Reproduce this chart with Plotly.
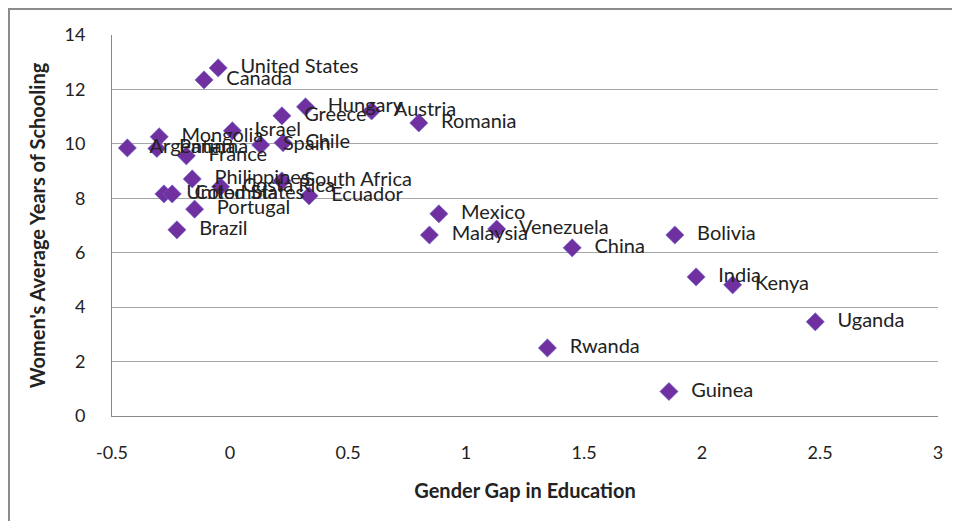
import plotly.graph_objects as go

countries = ["United States", "Canada", "Hungary", "Greece", "Austria", "Romania", "Israel",
             "Mongolia", "Argentina", "Panama", "France", "Spain", "Chile", "Philippines",
             "United States", "Colombia", "Costa Rica", "South Africa", "Ecuador", "Portugal",
             "Brazil", "Mexico", "Malaysia", "Venezuela", "China", "Bolivia", "India", "Kenya",
             "Uganda", "Rwanda", "Guinea"]
gender_gap = [-0.05, -0.11, 0.32, 0.22, 0.60, 0.80, 0.01,
              -0.30, -0.435, -0.31, -0.185, 0.13, 0.225, -0.16,
              -0.28, -0.245, -0.04, 0.22, 0.335, -0.15,
              -0.225, 0.885, 0.845, 1.13, 1.45, 1.885, 1.975, 2.13,
              2.48, 1.345, 1.86]
schooling = [12.79, 12.35, 11.36, 11.03, 11.21, 10.77, 10.48,
             10.26, 9.85, 9.83, 9.56, 9.96, 10.04, 8.71,
             8.16, 8.16, 8.42, 8.64, 8.09, 7.60,
             6.84, 7.43, 6.65, 6.87, 6.18, 6.65, 5.11, 4.82,
             3.46, 2.50, 0.90]

x_ticks = [-0.5, 0, 0.5, 1, 1.5, 2, 2.5, 3]
x_tick_labels = ["-0.5", "0", "0.5", "1", "1.5", "2", "2.5", "3"]
y_ticks = [0, 2, 4, 6, 8, 10, 12, 14]

fig = go.Figure()
fig.add_trace(go.Scatter(
    x=gender_gap, y=schooling, text=["\u2002\u2009" + c for c in countries],
    mode="markers+text", textposition="middle right",
    textfont=dict(family="Lato", size=20, color="#222222"),
    marker=dict(symbol="diamond", size=14, color="#7030A0",
                line=dict(color="#6A6AD0", width=0.6)),
    cliponaxis=False, hoverinfo="skip", showlegend=False,
))

fig.update_layout(
    width=952, height=513,
    margin=dict(l=104, r=22, t=27, b=105, autoexpand=False),
    paper_bgcolor="white", plot_bgcolor="white",
    xaxis=dict(range=[-0.5, 3], tickvals=x_ticks, ticktext=x_tick_labels,
               showgrid=False, zeroline=False, showline=True, linecolor="#888888",
               linewidth=1, ticks="", ticklabelstandoff=20,
               tickfont=dict(family="Lato", size=18, color="#222222"),
               title=dict(text="<b>Gender Gap in Education</b>", standoff=22,
                          font=dict(family="Lato", size=20, color="#222222"))),
    yaxis=dict(range=[0, 14], tickvals=y_ticks, showgrid=True, gridcolor="#a6a6a6",
               gridwidth=1, zeroline=False, showline=True, linecolor="#888888",
               linewidth=1, ticks="", ticklabelstandoff=22,
               tickfont=dict(family="Lato", size=18, color="#222222"),
               title=dict(text="<b>Women's Average Years of Schooling</b>", standoff=13,
                          font=dict(family="Lato", size=20, color="#222222"))),
    shapes=[dict(type="rect", xref="paper", yref="paper",
                 x0=-103 / 826, x1=1.2, y0=-0.5, y1=(381 + 26) / 381,
                 line=dict(color="#8c8c8c", width=2), fillcolor="rgba(0,0,0,0)",
                 layer="below")],
)

fig.write_html("out.html")
